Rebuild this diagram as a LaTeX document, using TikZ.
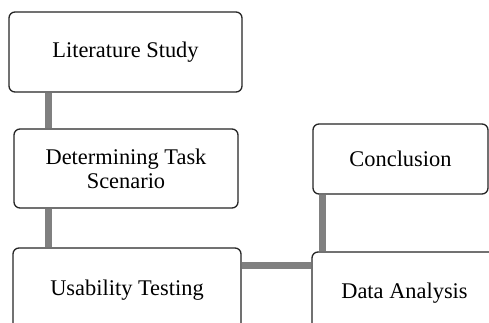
\documentclass[tikz,border=0pt]{standalone}
\usepackage{fontspec}
\setmainfont{Liberation Serif}
\begin{document}
\begin{tikzpicture}[x=1pt,y=-1pt,
  stepbox/.style={draw=black!85,line width=1.3pt,rounded corners=6pt,fill=white,
    inner sep=0pt,align=center,font=\fontsize{22.4}{24}\selectfont},
  link/.style={draw=black!50,line width=7pt}]
\useasboundingbox (0,0) rectangle (489,323);
\begin{scope}[on background layer/.style={}]
\end{scope}
% boxes
\node[stepbox,minimum width=233pt,minimum height=80pt] (lit) at (125.5,52) {Literature Study};
\node[stepbox,minimum width=224pt,minimum height=79pt] (det) at (126,168.5) {Determining Task\\Scenario};
\node[stepbox,minimum width=228pt,minimum height=84pt] (usa) at (127,290) {Usability Testing};
\node[stepbox,minimum width=175pt,minimum height=70pt] (con) at (400.5,159) {Conclusion};
\node[stepbox,minimum width=185pt,minimum height=82pt] (dat) at (404.5,293) {Data Analysis};
% connectors
\draw[link] ([xshift=40.5pt]lit.south west) -- ([xshift=35.5pt]det.north west);
\draw[link] ([xshift=35.5pt]det.south west) -- ([xshift=36.5pt]usa.north west);
\draw[link] ([yshift=-18pt]usa.north east) -- ([yshift=-14pt]dat.north west);
\draw[link] ([xshift=10pt]con.south west) -- ([xshift=11pt]dat.north west);
\end{tikzpicture}
\end{document}
